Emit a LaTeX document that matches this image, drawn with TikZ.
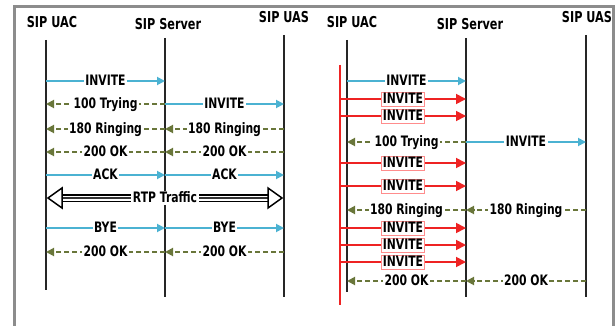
\documentclass[tikz,border=0pt]{standalone}
\usepackage{fontspec}
\usetikzlibrary{arrows.meta}
\newfontfamily\dfont{DejaVu Sans}[FakeStretch=0.75]
\definecolor{reqblue}{RGB}{75,178,210}
\definecolor{respgreen}{RGB}{105,118,58}
\definecolor{retxred}{RGB}{238,35,35}
\definecolor{framegray}{RGB}{140,140,140}
\tikzset{
  lifeline/.style={line width=1.3pt, black!85},
  title/.style={font=\dfont\bfseries\fontsize{15}{17}\selectfont, inner sep=0pt},
  req/.style={draw=reqblue, line width=1.8pt, -{Triangle[length=8pt,width=8pt]}},
  resp/.style={draw=respgreen, line width=1.9pt, dash pattern=on 5pt off 3pt, -{Triangle[length=8pt,width=8pt]}},
  retx/.style={draw=retxred, line width=1.8pt, -{Triangle[length=10pt,width=10pt]}},
  lbl/.style={fill=white, inner sep=1.5pt, text height=10.2pt, text depth=0.5pt, font=\dfont\bfseries\fontsize{14.4}{16}\selectfont},
  rlbl/.style={lbl, draw=red!45, line width=0.6pt},
}
\begin{document}
\begin{tikzpicture}[x=1pt,y=-1pt]
\useasboundingbox (0,0) rectangle (615,326);
% frame
\draw[framegray, line width=3pt] (14,326) -- (14,7) -- (613,7) -- (613,326);

% ---------------- left diagram ----------------
\node[title] (lt1) at (52,22) {SIP UAC};
\node[title] (lt2) at (168,24) {SIP Server};
\node[title] (lt3) at (284,17) {SIP UAS};
\coordinate (la0) at (46,40);  \coordinate (laE) at (46,290);
\coordinate (lb0) at (165,38); \coordinate (lbE) at (165,297);
\coordinate (lc0) at (284,35); \coordinate (lcE) at (284,297);
\draw[lifeline] (la0) -- (laE);
\draw[lifeline] (lb0) -- (lbE);
\draw[lifeline] (lc0) -- (lcE);

\foreach \n/\y in {1/81,2/104,3/129,4/152,5/175,6/198,7/228,8/252}{
  \coordinate (la\n) at (46,\y);
  \coordinate (lb\n) at (165,\y);
  \coordinate (lc\n) at (284,\y);
}
\draw[req] (la1) -- node[lbl]{INVITE} (lb1);
\draw[resp] (lb2) -- node[lbl]{100 Trying} (la2);
\draw[req] (lb2) -- node[lbl]{INVITE} (lc2);
\draw[resp] (lb3) -- node[lbl]{180 Ringing} (la3);
\draw[resp] (lc3) -- node[lbl]{180 Ringing} (lb3);
\draw[resp] (lb4) -- node[lbl]{200 OK} (la4);
\draw[resp] (lc4) -- node[lbl]{200 OK} (lb4);
\draw[req] (la5) -- node[lbl]{ACK} (lb5);
\draw[req] (lb5) -- node[lbl]{ACK} (lc5);
% RTP traffic
\coordinate (rtpL) at (48,198);
\coordinate (rtpR) at (282,198);
\coordinate (rtpLb) at (62,198);
\coordinate (rtpRb) at (268,198);
\draw[black, line width=8pt] (rtpLb) -- (rtpRb);
\draw[white, line width=5pt] (rtpLb) -- (rtpRb);
\draw[black!80, line width=1.6pt] (rtpLb) -- (rtpRb);
\draw[black, line width=1.5pt, fill=white, line join=miter] (rtpL) -- ([yshift=-10pt]rtpLb) -- ([yshift=10pt]rtpLb) -- cycle;
\draw[black, line width=1.5pt, fill=white, line join=miter] (rtpR) -- ([yshift=-10pt]rtpRb) -- ([yshift=10pt]rtpRb) -- cycle;
\node[lbl] (rtp) at (165,198) {RTP Traffic};
\draw[req] (la7) -- node[lbl]{BYE} (lb7);
\draw[req] (lb7) -- node[lbl]{BYE} (lc7);
\draw[resp] (lb8) -- node[lbl]{200 OK} (la8);
\draw[resp] (lc8) -- node[lbl]{200 OK} (lb8);

% ---------------- right diagram ----------------
\node[title] (rt1) at (352,22) {SIP UAC};
\node[title] (rt2) at (470,24) {SIP Server};
\node[title] (rt3) at (587,17) {SIP UAS};
\coordinate (ra0) at (347,40);  \coordinate (raE) at (347,292);
\coordinate (rb0) at (466,38); \coordinate (rbE) at (466,297);
\coordinate (rc0) at (586,35); \coordinate (rcE) at (586,297);
\draw[lifeline] (ra0) -- (raE);
\draw[lifeline] (rb0) -- (rbE);
\draw[lifeline] (rc0) -- (rcE);
\coordinate (rr0) at (340,65); \coordinate (rrE) at (340,305);
\draw[retxred, line width=1.8pt] (rr0) -- (rrE);

\foreach \n/\y in {1/81,2/99,3/116,4/142,5/163,6/186,7/210,8/228,9/245,10/262,11/281}{
  \coordinate (ra\n) at (347,\y);
  \coordinate (rr\n) at (340,\y);
  \coordinate (rb\n) at (466,\y);
  \coordinate (rc\n) at (586,\y);
}
\draw[req] (ra1) -- node[lbl]{INVITE} (rb1);
\draw[retx] (rr2) -- node[rlbl]{INVITE} (rb2);
\draw[retx] (rr3) -- node[rlbl]{INVITE} (rb3);
\draw[resp] (rb4) -- node[lbl]{100 Trying} (ra4);
\draw[req] (rb4) -- node[lbl]{INVITE} (rc4);
\draw[retx] (rr5) -- node[rlbl]{INVITE} (rb5);
\draw[retx] (rr6) -- node[rlbl]{INVITE} (rb6);
\draw[resp] (rb7) -- node[lbl]{180 Ringing} (ra7);
\draw[resp] (rc7) -- node[lbl]{180 Ringing} (rb7);
\draw[retx] (rr8) -- node[rlbl]{INVITE} (rb8);
\draw[retx] (rr9) -- node[rlbl]{INVITE} (rb9);
\draw[retx] (rr10) -- node[rlbl]{INVITE} (rb10);
\draw[resp] (rb11) -- node[lbl]{200 OK} (ra11);
\draw[resp] (rc11) -- node[lbl]{200 OK} (rb11);
\end{tikzpicture}
\end{document}
